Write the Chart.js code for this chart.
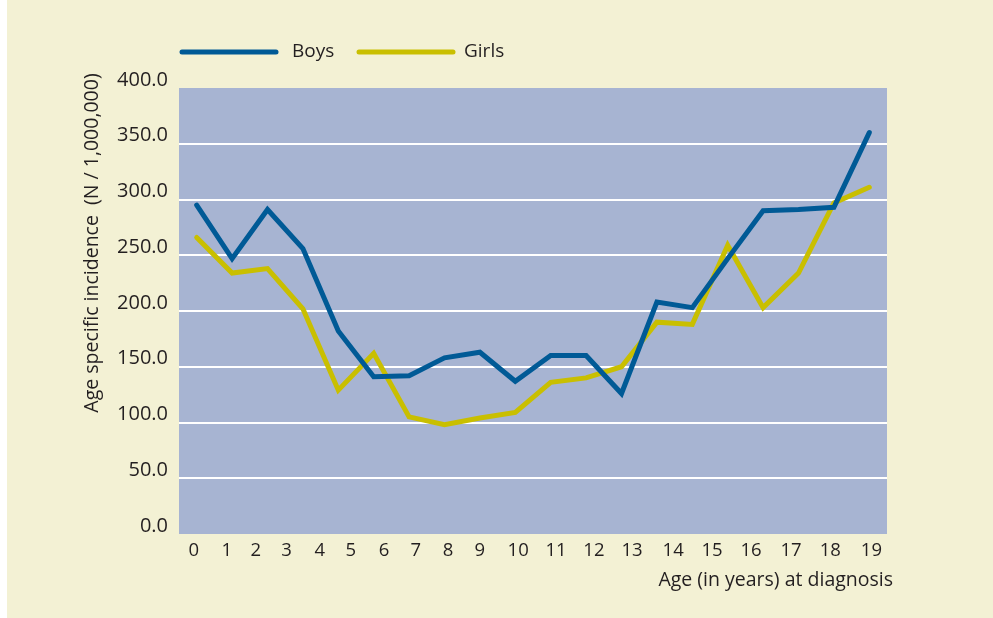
<!DOCTYPE html>
<html>
<head>
<meta charset="utf-8">
<script src="https://cdn.jsdelivr.net/npm/chart.js@4.4.0/dist/chart.umd.min.js"></script>
<style>
  html, body { margin: 0; padding: 0; background: #ffffff; }
  #wrap { position: absolute; left: 7px; top: 0; width: 986px; height: 618px; background: #f3f1d4; }
  canvas { display: block; }
</style>
</head>
<body>
<div id="wrap"><canvas id="c" width="986" height="618"></canvas></div>
<script>
// ---- data ----
const categories = ['0','1','2','3','4','5','6','7','8','9','10','11','12','13','14','15','16','17','18','19'];
const boys  = [295, 247, 291, 256, 182, 141, 142, 158, 163, 137, 160, 160, 126, 208, 203, 247, 290, 291, 293, 360];
const girls = [266, 234, 238, 202, 129, 162, 105,  98, 104, 109, 136, 140, 150, 190, 188, 259, 203, 234, 297, 311];
const seriesNames = ['Boys', 'Girls'];
const yTickMin = 0, yTickMax = 400, yTickStep = 50;

// ---- style / layout ----
const BOYS_COLOR = '#005a96';
const GIRLS_COLOR = '#c9bf00';
const PLOT_BG = '#a7b4d2';
const TEXT = '#231f20';
const FONT = "'Open Sans', sans-serif";
// tick label placement along the x axis (in axis units), as typeset in the original
const xTickPlacement = [-0.08, 0.85, 1.67, 2.54, 3.48, 4.35, 5.29, 6.19, 7.10, 8.00,
                        9.08, 10.15, 11.22, 12.30, 13.46, 14.56, 15.66, 16.79, 17.90, 19.06];

const toPoints = arr => arr.map((v, i) => ({ x: i, y: v }));

const decor = {
  id: 'decor',
  beforeDraw(chart) {
    const { ctx, chartArea: a } = chart;
    ctx.save();
    ctx.fillStyle = PLOT_BG;
    ctx.fillRect(a.left, a.top, a.right - a.left, a.bottom - a.top);
    ctx.restore();
  },
  afterDraw(chart) {
    const { ctx } = chart;
    ctx.save();
    // legend
    const items = [
      { x0: 175, x1: 269, tx: 285, color: BOYS_COLOR, label: seriesNames[0] },
      { x0: 352, x1: 446, tx: 457, color: GIRLS_COLOR, label: seriesNames[1] }
    ];
    ctx.lineCap = 'round';
    ctx.lineWidth = 5;
    ctx.font = "19px " + FONT;
    ctx.textBaseline = 'middle';
    ctx.textAlign = 'left';
    items.forEach(it => {
      ctx.strokeStyle = it.color;
      ctx.beginPath();
      ctx.moveTo(it.x0, 52);
      ctx.lineTo(it.x1, 52);
      ctx.stroke();
      ctx.fillStyle = TEXT;
      ctx.fillText(it.label, it.tx, 52);
    });
    // y title
    ctx.font = "19.5px " + FONT;
    ctx.fillStyle = TEXT;
    ctx.translate(85, 243);
    ctx.rotate(-Math.PI / 2);
    ctx.textAlign = 'center';
    ctx.fillText('Age specific incidence  (N / 1,000,000)', 0, 0);
    ctx.restore();
    // x title
    ctx.save();
    ctx.font = "19.5px " + FONT;
    ctx.fillStyle = TEXT;
    ctx.textAlign = 'right';
    ctx.textBaseline = 'middle';
    ctx.fillText('Age (in years) at diagnosis', 886, 580);
    ctx.restore();
  }
};

new Chart(document.getElementById('c'), {
  type: 'line',
  data: {
    datasets: [
      { label: seriesNames[0], data: toPoints(boys), borderColor: BOYS_COLOR, borderWidth: 5,
        pointRadius: 0, tension: 0, borderJoinStyle: 'miter', borderCapStyle: 'round', fill: false },
      { label: seriesNames[1], data: toPoints(girls), borderColor: GIRLS_COLOR, borderWidth: 5,
        pointRadius: 0, tension: 0, borderJoinStyle: 'miter', borderCapStyle: 'round', fill: false }
    ]
  },
  options: {
    responsive: false,
    animation: false,
    devicePixelRatio: 1,
    layout: { padding: { top: 88, right: 106, bottom: 0, left: 0 } },
    plugins: { legend: { display: false }, tooltip: { enabled: false } },
    scales: {
      x: {
        type: 'linear',
        min: -0.5, max: 19.5,
        afterBuildTicks(scale) {
          scale.ticks = xTickPlacement.map(v => ({ value: v }));
        },
        afterFit(scale) { scale.height = 84; },
        grid: { display: false, drawTicks: false },
        border: { display: false },
        ticks: {
          autoSkip: false, maxRotation: 0, padding: 6,
          color: TEXT, font: { family: FONT, size: 18.5 },
          callback: (v, i) => categories[i]
        }
      },
      y: {
        min: yTickMin, max: yTickMax,
        afterFit(scale) { scale.width = 172; },
        grid: {
          drawTicks: false, lineWidth: 2,
          color: ctx => (ctx.tick && (ctx.tick.value === yTickMin || ctx.tick.value === yTickMax)) ? 'rgba(0,0,0,0)' : '#ffffff'
        },
        border: { display: false },
        ticks: {
          stepSize: yTickStep, padding: 11, labelOffset: -8,
          color: TEXT, font: { family: FONT, size: 20 },
          callback: v => Number(v).toFixed(1)
        }
      }
    }
  },
  plugins: [decor]
});
</script>
</body>
</html>
